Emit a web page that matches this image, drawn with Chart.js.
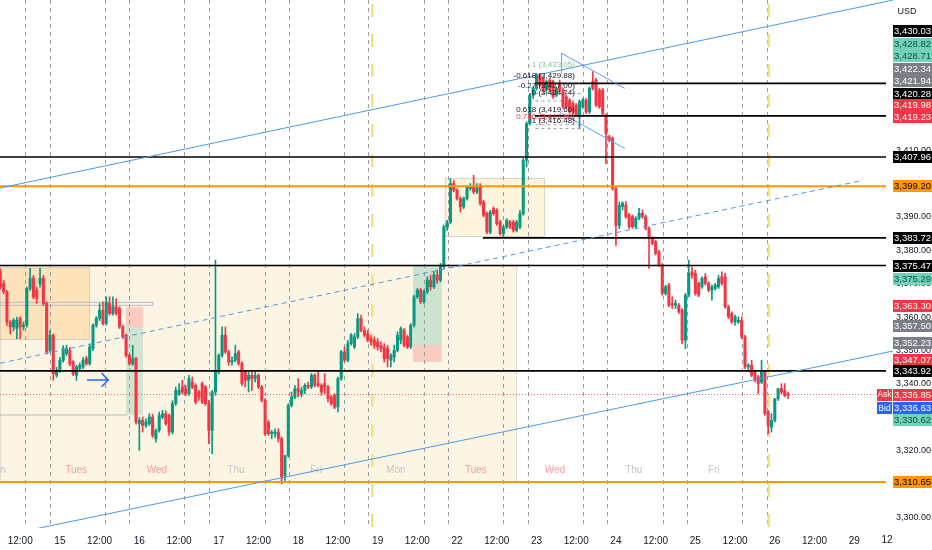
<!DOCTYPE html>
<html>
<head>
<meta charset="utf-8">
<title>XAUUSD 1h</title>
<script src="https://cdn.jsdelivr.net/npm/chart.js@4.4.1/dist/chart.umd.min.js"></script>
<style>
	html, body { margin: 0; padding: 0; background: #ffffff; }
	#chart { display: block; }
</style>
</head>
<body>
<canvas id="chart" width="932" height="550"></canvas>
<script>
// hourly candles, first one is 18 hours before the "15" day mark
const firstHour = -18

const openVals = [
	3373.6, 3370.1, 3367.6, 3358.6, 3357.1, 3356.6, 3359.6, 3357.1, 3357.6, 3368.6,
	3371.6, 3368.0, 3370.0, 3371.6, 3364.1, 3350.1, 3354.6, 3342.6, 3344.1, 3347.1,
	3349.1, 3350.1, 3346.6, 3342.6, 3344.6, 3345.1, 3347.6, 3346.1, 3350.6, 3357.6,
	3359.6, 3362.1, 3358.1, 3364.1, 3361.1, 3363.1, 3362.6, 3357.1, 3354.6, 3348.6,
	3346.1, 3347.6, 3328.1, 3329.1, 3327.6, 3328.1, 3330.1, 3323.6, 3326.1, 3330.1,
	3331.1, 3330.6, 3325.6, 3334.1, 3337.1, 3339.1, 3338.6, 3337.1, 3340.6, 3339.6,
	3337.6, 3340.1, 3339.1, 3334.1, 3326.1, 3337.6, 3343.6, 3348.6, 3354.6, 3349.6,
	3346.6, 3347.1, 3349.6, 3346.1, 3343.6, 3341.1, 3342.6, 3341.6, 3342.6, 3339.1,
	3335.1, 3328.6, 3325.1, 3325.1, 3325.6, 3323.6, 3312.6, 3318.6, 3333.6, 3336.1,
	3338.6, 3337.1, 3338.1, 3339.6, 3339.1, 3342.6, 3340.1, 3339.6, 3340.1, 3339.1,
	3336.1, 3336.6, 3333.1, 3341.6, 3349.6, 3347.1, 3352.1, 3351.1, 3354.1, 3359.6,
	3356.1, 3355.1, 3353.6, 3353.1, 3352.6, 3351.6, 3351.1, 3350.6, 3347.1, 3348.1,
	3350.1, 3353.1, 3356.1, 3354.1, 3351.1, 3357.6, 3366.1, 3368.1, 3364.6, 3367.6,
	3371.1, 3369.1, 3372.6, 3371.1, 3375.1, 3387.0, 3388.5, 3400.0, 3398.0, 3395.5,
	3393.0, 3395.5, 3398.5, 3399.0, 3397.5, 3399.5, 3394.5, 3391.0, 3385.5, 3392.5,
	3392.0, 3388.5, 3385.0, 3387.0, 3388.5, 3388.5, 3386.0, 3387.0, 3391.0, 3407.0,
	3418.0, 3426.5, 3428.5, 3432.5, 3431.5, 3428.0, 3431.0, 3430.5, 3426.5, 3430.0,
	3428.0, 3426.0, 3425.0, 3424.0, 3423.5, 3420.5, 3423.0, 3425.0, 3421.5, 3430.5,
	3431.0, 3428.0, 3428.0, 3420.5, 3414.0, 3413.5, 3398.5, 3387.5, 3393.1, 3393.6,
	3390.6, 3390.1, 3387.1, 3389.6, 3391.1, 3390.1, 3386.6, 3383.6, 3382.6, 3379.6,
	3375.6, 3367.1, 3369.6, 3364.1, 3363.6, 3363.6, 3362.1, 3353.1, 3366.6, 3373.6,
	3373.1, 3370.1, 3369.1, 3372.1, 3370.1, 3368.1, 3368.6, 3369.1, 3372.1, 3372.1,
	3363.1, 3361.1, 3358.6, 3358.6, 3359.1, 3354.1, 3345.1, 3345.6, 3343.6, 3342.1,
	3340.6, 3343.6, 3331.6, 3327.1, 3329.1, 3335.6, 3338.6, 3338.1, 3337.1
]
const highVals = [
	3374.5, 3371.0, 3368.0, 3359.0, 3359.6, 3360.0, 3360.1, 3358.6, 3369.0, 3374.6,
	3372.5, 3369.0, 3374.6, 3372.5, 3364.6, 3356.0, 3355.0, 3345.0, 3348.0, 3351.5,
	3351.6, 3351.0, 3347.0, 3345.6, 3346.3, 3348.0, 3348.3, 3352.0, 3358.0, 3360.2,
	3364.1, 3364.6, 3366.1, 3366.1, 3366.1, 3365.6, 3363.1, 3357.6, 3355.0, 3349.0,
	3351.6, 3348.0, 3330.0, 3330.1, 3329.6, 3331.1, 3331.0, 3326.6, 3331.6, 3332.1,
	3332.0, 3331.0, 3335.0, 3339.1, 3340.1, 3341.1, 3339.6, 3342.6, 3342.1, 3340.1,
	3338.1, 3340.6, 3339.6, 3335.0, 3338.0, 3377.1, 3349.0, 3357.1, 3357.1, 3350.1,
	3348.1, 3351.6, 3350.1, 3346.6, 3344.1, 3343.6, 3344.0, 3343.6, 3343.1, 3339.6,
	3335.6, 3329.1, 3326.1, 3326.6, 3326.6, 3324.1, 3318.6, 3334.1, 3337.6, 3339.6,
	3341.6, 3339.1, 3340.1, 3340.6, 3343.1, 3343.1, 3343.6, 3340.1, 3343.1, 3339.6,
	3336.6, 3337.1, 3342.1, 3350.1, 3351.1, 3353.1, 3355.1, 3355.1, 3361.1, 3360.6,
	3357.1, 3356.1, 3354.6, 3354.1, 3353.6, 3352.6, 3352.1, 3351.6, 3349.1, 3351.6,
	3355.6, 3357.1, 3356.6, 3354.6, 3358.1, 3366.6, 3368.6, 3368.6, 3368.1, 3372.1,
	3372.6, 3373.6, 3374.1, 3376.1, 3387.6, 3389.0, 3401.5, 3401.0, 3398.5, 3396.0,
	3396.0, 3399.5, 3400.0, 3402.5, 3400.0, 3400.0, 3395.0, 3391.5, 3392.0, 3393.0,
	3392.5, 3389.0, 3387.5, 3389.5, 3389.0, 3389.0, 3389.0, 3392.0, 3407.5, 3418.5,
	3427.0, 3429.0, 3433.0, 3433.0, 3432.0, 3431.0, 3431.5, 3431.0, 3429.0, 3431.0,
	3428.5, 3426.5, 3425.5, 3424.5, 3424.0, 3425.0, 3425.5, 3425.5, 3429.0, 3433.5,
	3431.5, 3428.5, 3428.5, 3421.0, 3414.5, 3414.0, 3399.0, 3394.5, 3394.6, 3394.6,
	3391.1, 3390.6, 3390.1, 3392.6, 3392.1, 3390.6, 3387.1, 3384.1, 3383.1, 3380.1,
	3376.1, 3369.6, 3370.1, 3366.1, 3365.1, 3364.1, 3362.6, 3367.1, 3377.1, 3375.1,
	3374.1, 3370.6, 3372.1, 3373.1, 3370.6, 3369.6, 3370.1, 3372.6, 3373.6, 3373.1,
	3363.6, 3361.6, 3360.6, 3360.1, 3360.1, 3354.6, 3346.1, 3347.1, 3344.1, 3342.6,
	3347.1, 3344.1, 3332.1, 3331.1, 3335.6, 3338.6, 3340.1, 3340.1, 3337.6
]
const lowVals = [
	3368.5, 3367.0, 3357.5, 3355.0, 3356.0, 3353.6, 3353.6, 3356.1, 3357.0, 3368.0,
	3365.5, 3364.1, 3369.0, 3363.5, 3349.0, 3349.5, 3341.1, 3342.0, 3343.5, 3346.5,
	3348.5, 3345.5, 3342.5, 3341.1, 3344.0, 3344.6, 3345.6, 3345.6, 3350.0, 3357.0,
	3359.0, 3357.6, 3357.6, 3360.6, 3360.6, 3360.6, 3356.6, 3353.6, 3348.0, 3345.6,
	3345.6, 3328.0, 3320.1, 3325.6, 3327.0, 3327.6, 3324.0, 3322.6, 3325.6, 3329.6,
	3327.6, 3324.6, 3325.0, 3333.6, 3336.6, 3337.0, 3336.6, 3336.6, 3338.6, 3334.0,
	3335.1, 3334.1, 3333.6, 3322.1, 3319.1, 3336.6, 3343.0, 3348.0, 3349.1, 3345.6,
	3345.6, 3346.6, 3345.6, 3339.6, 3339.1, 3337.6, 3338.0, 3340.6, 3338.6, 3334.6,
	3324.6, 3324.6, 3323.6, 3324.1, 3322.6, 3310.1, 3311.1, 3318.1, 3333.1, 3335.6,
	3336.1, 3336.1, 3337.1, 3338.6, 3338.6, 3339.1, 3339.1, 3336.6, 3337.1, 3334.6,
	3333.6, 3332.6, 3331.6, 3341.1, 3346.6, 3346.6, 3351.6, 3350.6, 3353.6, 3355.6,
	3354.1, 3352.6, 3351.6, 3350.6, 3350.1, 3349.6, 3346.6, 3345.1, 3345.1, 3346.6,
	3349.6, 3352.1, 3351.1, 3350.6, 3350.6, 3357.1, 3365.6, 3364.1, 3364.1, 3367.1,
	3368.1, 3368.6, 3370.1, 3370.6, 3374.6, 3386.0, 3388.0, 3397.5, 3395.0, 3391.5,
	3392.5, 3395.0, 3398.0, 3397.0, 3397.0, 3393.5, 3390.0, 3385.0, 3385.0, 3390.5,
	3387.5, 3384.5, 3384.0, 3386.5, 3386.5, 3385.5, 3385.5, 3386.5, 3390.5, 3405.0,
	3417.5, 3425.5, 3428.0, 3429.0, 3427.5, 3427.0, 3427.5, 3425.5, 3426.0, 3427.5,
	3422.5, 3422.5, 3421.0, 3420.5, 3420.0, 3416.5, 3422.5, 3421.0, 3421.0, 3428.0,
	3423.0, 3422.5, 3420.5, 3406.0, 3412.5, 3398.0, 3381.5, 3386.5, 3392.1, 3389.6,
	3386.6, 3386.6, 3386.6, 3389.1, 3389.6, 3386.1, 3374.6, 3381.6, 3378.6, 3375.1,
	3366.6, 3366.6, 3363.1, 3362.6, 3362.6, 3361.1, 3352.1, 3350.6, 3366.1, 3371.6,
	3366.6, 3366.1, 3368.6, 3369.6, 3367.6, 3365.1, 3368.1, 3368.6, 3369.6, 3362.6,
	3359.6, 3358.1, 3357.6, 3358.1, 3353.6, 3344.6, 3343.6, 3342.1, 3340.6, 3337.1,
	3340.1, 3330.6, 3325.1, 3325.6, 3328.6, 3335.1, 3337.1, 3336.1, 3335.6
]
const closeVals = [
	3369.1, 3367.6, 3358.6, 3357.1, 3359.1, 3359.1, 3357.1, 3357.6, 3368.6, 3371.6,
	3366.1, 3365.6, 3371.6, 3364.1, 3349.6, 3354.6, 3343.1, 3344.1, 3347.1, 3350.6,
	3350.6, 3346.1, 3343.1, 3345.1, 3345.6, 3347.1, 3346.1, 3351.1, 3357.6, 3359.6,
	3362.1, 3358.1, 3364.6, 3361.1, 3363.1, 3361.1, 3357.1, 3354.1, 3348.6, 3346.1,
	3347.6, 3328.6, 3329.1, 3327.6, 3328.6, 3330.1, 3324.6, 3326.1, 3330.6, 3331.1,
	3328.1, 3325.6, 3334.1, 3338.1, 3338.1, 3337.6, 3337.1, 3341.6, 3339.1, 3334.6,
	3336.1, 3334.6, 3334.1, 3326.1, 3337.6, 3343.6, 3348.6, 3354.6, 3349.6, 3346.6,
	3347.1, 3349.1, 3346.1, 3340.1, 3341.1, 3342.6, 3341.6, 3342.6, 3339.1, 3335.1,
	3325.1, 3325.1, 3325.6, 3325.6, 3323.6, 3312.1, 3318.6, 3333.6, 3336.1, 3338.6,
	3337.6, 3338.1, 3339.6, 3339.1, 3342.6, 3339.6, 3339.6, 3337.6, 3339.1, 3335.6,
	3334.1, 3333.1, 3341.6, 3349.6, 3347.1, 3352.1, 3354.6, 3354.1, 3359.6, 3356.1,
	3354.6, 3353.1, 3352.6, 3351.6, 3351.1, 3350.6, 3347.6, 3347.6, 3348.6, 3350.1,
	3354.6, 3356.6, 3351.6, 3351.1, 3357.6, 3366.1, 3368.1, 3364.6, 3367.6, 3371.1,
	3369.1, 3372.6, 3371.1, 3375.1, 3387.0, 3388.5, 3400.0, 3398.0, 3395.5, 3393.0,
	3395.5, 3399.0, 3399.0, 3397.5, 3399.5, 3394.0, 3390.5, 3385.5, 3391.5, 3391.0,
	3388.0, 3385.0, 3387.0, 3389.0, 3387.0, 3386.0, 3388.5, 3391.0, 3407.0, 3418.0,
	3426.5, 3428.5, 3432.5, 3429.5, 3428.0, 3430.5, 3428.0, 3426.0, 3428.5, 3428.0,
	3423.0, 3423.0, 3421.5, 3421.5, 3420.5, 3424.5, 3425.0, 3421.5, 3428.5, 3428.5,
	3423.5, 3423.0, 3421.0, 3415.0, 3413.0, 3398.5, 3387.5, 3393.5, 3394.1, 3390.1,
	3387.1, 3387.1, 3389.6, 3391.1, 3390.1, 3386.6, 3383.6, 3382.1, 3379.1, 3375.6,
	3367.1, 3369.1, 3363.6, 3363.6, 3364.1, 3361.6, 3353.1, 3366.6, 3373.1, 3372.6,
	3367.1, 3366.6, 3371.6, 3370.1, 3368.1, 3369.1, 3369.6, 3371.6, 3370.1, 3363.1,
	3360.1, 3358.6, 3360.1, 3359.1, 3354.1, 3345.1, 3345.6, 3342.6, 3341.1, 3340.1,
	3343.6, 3331.1, 3327.6, 3329.1, 3335.6, 3338.6, 3337.6, 3336.6, 3336.7
]

// time axis
const tickHours = [-12, 0, 12, 24, 36, 48, 60, 72, 84, 96, 108, 120, 132, 144, 156, 168, 180, 192, 204, 216, 228, 240]
const tickLabels = ["12:00", "15", "12:00", "16", "12:00", "17", "12:00", "18", "12:00", "19", "12:00", "22", "12:00", "23", "12:00", "24", "12:00", "25", "12:00", "26", "12:00", "29"]
const priceTicks = [3300, 3310, 3320, 3330, 3340, 3350, 3360, 3370, 3380, 3390, 3400, 3410, 3420, 3430, 3440]

// drawings
const sessionHours = [-10.5, -3.1, 13.6, 20.9, 37.6, 45.0, 61.9, 69.1, 85.7, 93.2, 109.9, 117.3, 133.9, 141.3, 157.9, 165.4, 182.1, 189.5, 206.2, 213.6]
const weekHours = [94.4, 214.2]
const dayNames = ["Mon", "Tues", "Wed", "Thu", "Fri", "Mon", "Tues", "Wed", "Thu", "Fri"]
const dayNameHours = [-19.3, 4.9, 29.3, 53.2, 77.4, 101.5, 125.7, 149.6, 173.4, 197.6]
const dayNamePrice = 3314.2

const blackLevels = [3407.96, 3375.47, 3343.92]
const orangeLevels = [3399.20, 3310.65]
const partialLevels = [3430.03, 3420.28, 3383.72]
const partialFrom = [143.5, 143.5, 127.8]
const askPrice = 3336.85

const fibLabels = ["-1 (3,433.05)", "-0.618 (3,429.88)", "-0.27 (3,427.00)", "0 (3,424.74)", "0.618 (3,419.60)", "0.786 (3,417.60)", "1 (3,416.48)"]
const fibPrices = [3433.05, 3429.88, 3427.00, 3424.74, 3419.60, 3417.60, 3416.48]

const tagValues = [3430.03, 3428.82, 3428.71, 3422.34, 3421.94, 3420.28, 3419.98, 3419.23, 3407.96, 3399.20, 3383.72, 3375.47, 3375.29, 3363.30, 3357.50, 3352.23, 3347.07, 3343.92, 3336.85, 3336.63, 3330.62, 3310.65]
const tagKinds = ["line", "up", "up", "drawing", "drawing", "line", "down", "down", "line", "level", "line", "line", "up", "down", "drawing", "drawing", "down", "line", "ask", "bid", "up", "level"]
// stacked rows for the crowded labels, null = at its own price
const tagRows = [31, 43.5, 56, 68.5, 81, 93.5, 105, 116.5, null, null, null, null, 279, null, null, null, null, null, null, 408, 420, null]

const tagStyle = {
	line: ["#000000", "#ffffff"],
	up: ["#72d1b9", "#0b5345"],
	drawing: ["#7b7e87", "#ffffff"],
	down: ["#f23645", "#ffffff"],
	level: ["#ff9800", "#000000"],
	ask: ["#f23645", "#ffffff"],
	bid: ["#2962ff", "#ffffff"]
}

const upColor = "#089981"
const downColor = "#f23645"
const font = "Liberation Sans"

const hours = openVals.map((v, i) => firstHour + i)
const candleColors = openVals.map((o, i) => closeVals[i] >= o ? upColor : downColor)

function fmt(v) {
	return v.toLocaleString("en-US", { minimumFractionDigits: 2, maximumFractionDigits: 2 })
}

function rectBox(ctx, x, y, h0, h1, p0, p1, fill, stroke) {
	let left = x.getPixelForValue(h0)
	let right = x.getPixelForValue(h1)
	let top = y.getPixelForValue(p0)
	let bottom = y.getPixelForValue(p1)
	ctx.fillStyle = fill
	ctx.fillRect(left, top, right - left, bottom - top)
	if(stroke) {
		ctx.strokeStyle = stroke
		ctx.lineWidth = 1
		ctx.strokeRect(left + 0.5, top + 0.5, right - left - 1, bottom - top - 1)
	}
}

function ray(ctx, x, y, a, b, xStart, xEnd) {
	let x1 = x.getPixelForValue(a[0]), y1 = y.getPixelForValue(a[1])
	let x2 = x.getPixelForValue(b[0]), y2 = y.getPixelForValue(b[1])
	let slope = (y2 - y1) / (x2 - x1)
	ctx.beginPath()
	ctx.moveTo(xStart, y1 + (xStart - x1) * slope)
	ctx.lineTo(xEnd, y1 + (xEnd - x1) * slope)
	ctx.stroke()
}

function segment(ctx, x, y, a, b) {
	ctx.beginPath()
	ctx.moveTo(x.getPixelForValue(a[0]), y.getPixelForValue(a[1]))
	ctx.lineTo(x.getPixelForValue(b[0]), y.getPixelForValue(b[1]))
	ctx.stroke()
}

const drawings = {
	id: "drawings",
	beforeDatasetsDraw(chart) {
		const { ctx, chartArea: area, scales: { x, y } } = chart
		ctx.save()
		ctx.beginPath()
		ctx.rect(area.left, area.top, area.right - area.left, area.bottom - area.top)
		ctx.clip()

		// range boxes
		rectBox(ctx, x, y, -18.1, 138.1, 3375.47, 3310.65, "#fdf5e3", "#e4ddd0")
		rectBox(ctx, x, y, -18.1, 9.1, 3374.9, 3353.2, "rgba(255,196,110,0.35)", "#d9cdb8")
		rectBox(ctx, x, y, 116.3, 146.6, 3401.7, 3384.0, "rgba(255,232,185,0.45)", "#d8d2c6")
		ctx.strokeStyle = "#b8bac2"
		ctx.lineWidth = 1
		ctx.strokeRect(0, y.getPixelForValue(3364.6) + 0.5, x.getPixelForValue(28.1), 3)
		segment(ctx, x, y, [-18.1, 3330.7], [20.3, 3330.7])

		// position tools
		rectBox(ctx, x, y, 20.0, 25.1, 3363.0, 3357.1, "rgba(242,54,69,0.22)")
		rectBox(ctx, x, y, 20.0, 25.1, 3357.1, 3330.7, "rgba(8,153,129,0.18)")
		rectBox(ctx, x, y, 106.7, 115.4, 3375.5, 3351.7, "rgba(8,153,129,0.2)")
		rectBox(ctx, x, y, 106.7, 115.4, 3351.7, 3346.6, "rgba(242,54,69,0.22)")

		// session and week separators
		ctx.setLineDash([4, 4])
		ctx.strokeStyle = "#9a9ca3"
		ctx.lineWidth = 1
		for(let h of sessionHours) {
			let px = Math.round(x.getPixelForValue(h)) + 0.5
			ctx.beginPath()
			ctx.moveTo(px, area.top)
			ctx.lineTo(px, area.bottom)
			ctx.stroke()
		}
		ctx.setLineDash([13, 17])
		ctx.strokeStyle = "#f3e47a"
		ctx.lineWidth = 2.5
		for(let h of weekHours) {
			let px = x.getPixelForValue(h)
			ctx.beginPath()
			ctx.moveTo(px, area.top + 4)
			ctx.lineTo(px, area.bottom)
			ctx.stroke()
		}
		ctx.setLineDash([])

		// day names
		ctx.font = `10px "${font}"`
		ctx.textAlign = "center"
		ctx.textBaseline = "middle"
		for(let i in dayNames) {
			let name = dayNames[i]
			ctx.fillStyle = (name == "Tues" || name == "Wed") ? "#f59aa3" : "#c4c5c9"
			ctx.fillText(name, x.getPixelForValue(dayNameHours[i]), y.getPixelForValue(dayNamePrice))
		}
		ctx.restore()
	},
	afterDatasetsDraw(chart) {
		const { ctx, chartArea: area, scales: { x, y } } = chart
		ctx.save()
		ctx.beginPath()
		ctx.rect(0, 0, 893, area.bottom)
		ctx.clip()

		// horizontal levels
		ctx.lineWidth = 1.7
		ctx.strokeStyle = "#000000"
		for(let p of blackLevels) {
			segment(ctx, x, y, [x.min, p], [x.max, p])
		}
		for(let i in partialLevels) {
			segment(ctx, x, y, [partialFrom[i], partialLevels[i]], [x.max, partialLevels[i]])
		}
		ctx.strokeStyle = "#ff9800"
		ctx.lineWidth = 2
		for(let p of orangeLevels) {
			segment(ctx, x, y, [x.min, p], [x.max, p])
		}
		ctx.strokeStyle = "rgba(242,54,69,0.75)"
		ctx.lineWidth = 1
		ctx.setLineDash([1, 2])
		segment(ctx, x, y, [x.min, askPrice], [x.max, askPrice])

		// fib levels
		ctx.strokeStyle = "rgba(120,123,134,0.7)"
		ctx.setLineDash([3, 3])
		for(let p of fibPrices.slice(1)) {
			segment(ctx, x, y, [143.7, p], [157.8, p])
		}
		ctx.setLineDash([])

		// trend channel
		ctx.strokeStyle = "#4a9be6"
		ctx.lineWidth = 1
		ray(ctx, x, y, [-18.1, 3398.68], [247.8, 3454.13], 0, 893)
		ray(ctx, x, y, [-8.04, 3296.49], [226.6, 3344.7], 0, 893)
		ctx.setLineDash([5, 4])
		ray(ctx, x, y, [-18.1, 3346.2], [247.8, 3402.06], 0, area.right - 26)
		ctx.setLineDash([])

		// falling wedge at the top
		ctx.strokeStyle = "#5b9cf6"
		segment(ctx, x, y, [151.6, 3439.0], [170.7, 3428.5])
		segment(ctx, x, y, [151.1, 3421.3], [170.7, 3410.5])
		segment(ctx, x, y, [151.6, 3439.0], [151.6, 3433.0])

		// arrow
		ctx.strokeStyle = "#2962ff"
		ctx.lineWidth = 1.5
		segment(ctx, x, y, [8.2, 3341.2], [14.6, 3341.2])
		ctx.beginPath()
		ctx.moveTo(x.getPixelForValue(12.6), y.getPixelForValue(3343.3))
		ctx.lineTo(x.getPixelForValue(14.6), y.getPixelForValue(3341.2))
		ctx.lineTo(x.getPixelForValue(12.6), y.getPixelForValue(3339.2))
		ctx.stroke()

		// fib labels
		ctx.font = `8px "${font}"`
		ctx.textAlign = "right"
		ctx.textBaseline = "middle"
		for(let i in fibLabels) {
			let label = fibLabels[i]
			ctx.fillStyle = i == 0 ? "#81c995" : (label.startsWith("0.786") ? "#f23645" : "#131722")
			ctx.fillText(label, x.getPixelForValue(155.6), y.getPixelForValue(fibPrices[i]) - 8)
		}
		ctx.restore()
	},
	afterDraw(chart) {
		const { ctx, chartArea: area, scales: { x, y } } = chart
		ctx.save()

		// time label cut by the price scale
		ctx.save()
		ctx.beginPath()
		ctx.rect(0, area.bottom, 893, 22)
		ctx.clip()
		ctx.font = `10px "${font}"`
		ctx.fillStyle = "#131722"
		ctx.textAlign = "center"
		ctx.textBaseline = "middle"
		ctx.fillText("12:00", x.getPixelForValue(252), 540)
		ctx.restore()

		ctx.font = `9px "${font}"`
		ctx.fillStyle = "#131722"
		ctx.textAlign = "center"
		ctx.textBaseline = "middle"
		ctx.fillText("USD", 907, 12)

		// price tags
		for(let i in tagValues) {
			let [bg, fg] = tagStyle[tagKinds[i]]
			let cy = tagRows[i] === null ? y.getPixelForValue(tagValues[i]) : tagRows[i]
			ctx.font = `9.5px "${font}"`
			ctx.fillStyle = bg
			ctx.fillRect(893, Math.round(cy - 6), 39, 12)
			ctx.fillStyle = fg
			ctx.fillText(fmt(tagValues[i]), 912.5, cy + 0.5)
			if(tagKinds[i] == "ask" || tagKinds[i] == "bid") {
				ctx.font = `8.5px "${font}"`
				ctx.fillStyle = bg
				ctx.fillRect(877, Math.round(cy - 6), 15, 12)
				ctx.fillStyle = fg
				ctx.fillText(tagKinds[i] == "ask" ? "Ask" : "Bid", 884.5, cy + 0.5)
			}
		}
		ctx.restore()
	}
}

const canvas = document.getElementById("chart")

let chart = new Chart(canvas, {
	type: "bar",
	data: {
		datasets: [{
			label: "wicks",
			data: hours.map((h, i) => ({ x: h, y: [lowVals[i], highVals[i]] })),
			backgroundColor: candleColors,
			barThickness: 1,
			grouped: false,
			order: 2
		}, {
			label: "bodies",
			data: hours.map((h, i) => ({ x: h, y: [openVals[i], closeVals[i]] })),
			backgroundColor: candleColors,
			barThickness: 2.4,
			minBarLength: 1,
			grouped: false,
			order: 1
		}]
	},
	options: {
		responsive: false,
		animation: false,
		events: [],
		layout: { padding: 0 },
		plugins: {
			legend: { display: false },
			tooltip: { enabled: false }
		},
		scales: {
			x: {
				type: "linear",
				min: -18.1,
				max: 249.6,
				offset: false,
				grid: { display: false, drawTicks: false },
				border: { display: false },
				afterBuildTicks: (scale) => { scale.ticks = tickHours.map(v => ({ value: v })) },
				afterFit: (scale) => {
					scale.height = 22
					scale.paddingLeft = 0
					scale.paddingRight = 0
				},
				ticks: {
					autoSkip: false,
					maxRotation: 0,
					padding: 7,
					color: "#131722",
					font: { family: font, size: 10 },
					callback: (v) => tickLabels[tickHours.indexOf(v)] ?? ""
				}
			},
			y: {
				position: "right",
				min: 3296.88,
				max: 3454.97,
				grid: { display: false, drawTicks: false },
				border: { display: false },
				afterBuildTicks: (scale) => { scale.ticks = priceTicks.map(v => ({ value: v })) },
				afterFit: (scale) => {
					scale.width = 46
					scale.paddingTop = 0
					scale.paddingBottom = 0
				},
				ticks: {
					padding: 10,
					color: "#131722",
					font: { family: font, size: 9 },
					callback: (v) => fmt(v)
				}
			}
		}
	},
	plugins: [drawings]
})
</script>
</body>
</html>
